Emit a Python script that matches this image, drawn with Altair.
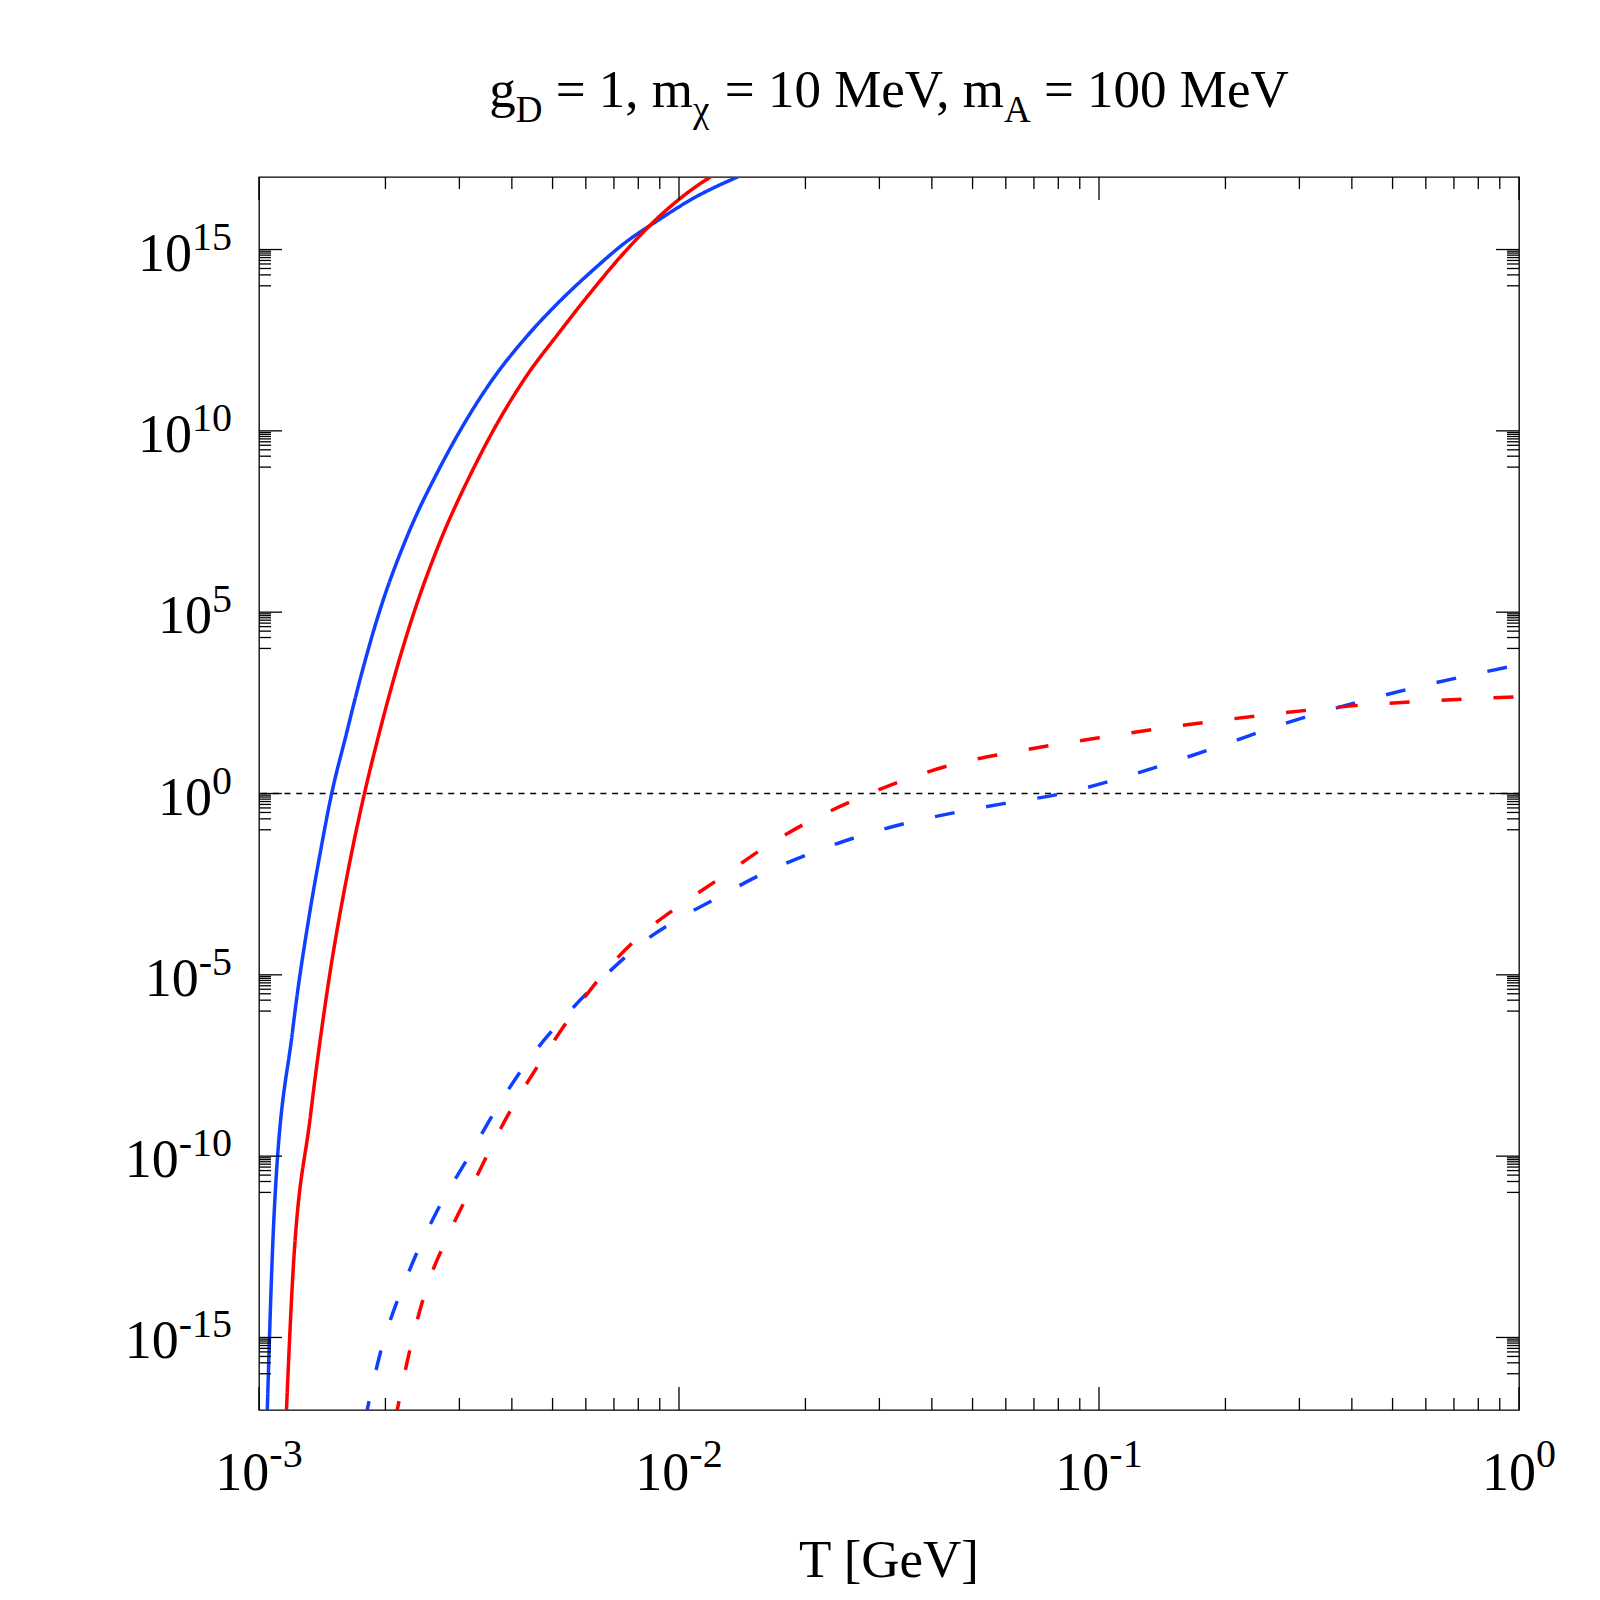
import altair as alt
import pandas as pd

# ---------------- data (log10 values) ----------------
blue_solid_logT = [-2.984, -2.964, -2.920, -2.878, -2.856, -2.827, -2.794, -2.757, -2.715, -2.647,
                   -2.571, -2.524, -2.445, -2.365, -2.286, -2.206, -2.127, -2.048, -1.968, -1.861, -1.80]
blue_solid_logY = [-18.5, -11.6, -6.54, -3.2, -1.75, 0.0, 1.55, 3.25, 4.95, 7.1,
                   8.95, 9.95, 11.4, 12.57, 13.55, 14.42, 15.2, 15.82, 16.4, 17.0, 17.3]

red_solid_logT = [-2.940, -2.920, -2.878, -2.837, -2.783, -2.749, -2.714, -2.672, -2.635, -2.574,
                  -2.492, -2.445, -2.365, -2.286, -2.206, -2.127, -2.048, -1.985, -1.921, -1.88]
red_solid_logY = [-18.5, -13.4, -8.93, -5.4, -1.84, 0.0, 1.65, 3.45, 4.85, 6.8,
                  8.9, 9.95, 11.48, 12.7, 13.88, 14.96, 15.9, 16.52, 17.03, 17.3]

blue_dashed_logT = [-2.748, -2.715, -2.647, -2.580, -2.500, -2.430, -2.355, -2.260, -2.160, -2.080,
                    -2.000, -1.914, -1.805, -1.690, -1.574, -1.456, -1.334, -1.213, -1.091,
                    -0.950, -0.822, -0.700, -0.579, -0.384, -0.200, 0.0]
blue_dashed_logY = [-17.3, -15.6, -13.3, -11.6, -10.0, -8.6, -7.3, -6.0, -4.85, -4.05,
                    -3.45, -2.91, -2.235, -1.665, -1.19, -0.81, -0.505, -0.25, -0.01,
                    0.42, 0.88, 1.36, 1.85, 2.52, 3.05, 3.55]

red_dashed_logT = [-2.676, -2.640, -2.600, -2.550, -2.500, -2.404, -2.330, -2.258, -2.160, -2.080,
                   -2.000, -1.902, -1.800, -1.693, -1.581, -1.467, -1.349, -1.200, -1.000,
                   -0.800, -0.579, -0.384, -0.200, 0.0]
red_dashed_logY = [-17.3, -15.3, -13.6, -12.2, -11.0, -8.8, -7.4, -6.15, -4.7, -3.8,
                   -3.1, -2.335, -1.515, -0.79, -0.175, 0.36, 0.795, 1.15, 1.54,
                   1.88, 2.2, 2.43, 2.56, 2.67]

series_names = ["blue_solid", "red_solid", "blue_dashed", "red_dashed"]
series_colors = ["#1040ff", "#ff0000", "#1040ff", "#ff0000"]

y_major_exp = [-15, -10, -5, 0, 5, 10, 15]
x_major_exp = [-3, -2, -1, 0]
ref_line_value = [1.0]

title_parts = ["g", "D", "= 1, m", "χ", "= 10 MeV, m", "A", "= 100 MeV"]
title_is_sub = [False, True, False, True, False, True, False]
x_title = "T [GeV]"

# ---------------- layout constants ----------------
W, H = 1260, 1233
FONT = "Liberation Serif"
BASE_FS, EXP_FS = 54, 40
TITLE_FS, TITLE_SUB_FS = 53, 37
MAJ, MIN = 23, 12
INK = "black"

CHAR_W = {' ': 250, '=': 564, '0': 500, '1': 500, '2': 500, '3': 500, '5': 500, ',': 250,
          'm': 778, 'g': 500, 'M': 889, 'e': 444, 'V': 722, 'D': 722, 'A': 722, 'χ': 500,
          '-': 333, 'T': 611, '[': 333, 'G': 722, ']': 333}
KERN = {"V,": -129}


def tw(s, size):
    total = sum(CHAR_W.get(c, 500) for c in s)
    for pair, k in KERN.items():
        total += s.count(pair) * k
    return total * size / 1000.0


xs = alt.Scale(type="log", domain=[1e-3, 1.0], nice=False)
ys = alt.Scale(type="log", domain=[1e-17, 1e17], nice=False)

# ---------------- curves ----------------
rows = []
for name, lt, ly, style in [
    ("blue_solid", blue_solid_logT, blue_solid_logY, "solid"),
    ("red_solid", red_solid_logT, red_solid_logY, "solid"),
    ("blue_dashed", blue_dashed_logT, blue_dashed_logY, "dashed"),
    ("red_dashed", red_dashed_logT, red_dashed_logY, "dashed"),
]:
    for i, (a, b) in enumerate(zip(lt, ly)):
        rows.append({"series": name, "style": style, "i": i, "T": 10.0 ** a, "v": 10.0 ** b})
curves_df = pd.DataFrame(rows)

curves = alt.Chart(curves_df).mark_line(
    clip=True, strokeWidth=3.5, strokeCap="butt", interpolate="monotone"
).encode(
    x=alt.X("T:Q", scale=xs, axis=None),
    y=alt.Y("v:Q", scale=ys, axis=None),
    color=alt.Color("series:N", scale=alt.Scale(domain=series_names, range=series_colors), legend=None),
    strokeDash=alt.StrokeDash("style:N", scale=alt.Scale(domain=["solid", "dashed"], range=[[1, 0], [20, 32]]), legend=None),
    detail="series:N",
    order="i:Q",
)

ref = alt.Chart(pd.DataFrame({"v": ref_line_value})).mark_rule(
    color=INK, strokeWidth=1.3, strokeDash=[6, 5.7]
).encode(y=alt.Y("v:Q", scale=ys, axis=None))

# ---------------- ticks ----------------
y_major = pd.DataFrame({"v": [10.0 ** k for k in y_major_exp]})
y_minor = pd.DataFrame({"v": [j * 10.0 ** (k - 1) for k in y_major_exp for j in range(1, 10)]})
x_major = pd.DataFrame({"T": [10.0 ** k for k in x_major_exp]})
x_minor = pd.DataFrame({"T": [j * 10.0 ** k for k in x_major_exp[:-1] for j in range(2, 10)]})

ticks = []
for df, ln in [(y_major, MAJ), (y_minor, MIN)]:
    yenc = alt.Y("v:Q", scale=ys, axis=None)
    ticks.append(alt.Chart(df).mark_rule(color=INK, strokeWidth=1.3).encode(
        y=yenc, x=alt.value(0), x2=alt.value(ln)))
    ticks.append(alt.Chart(df).mark_rule(color=INK, strokeWidth=1.3).encode(
        y=yenc, x=alt.value(W - ln), x2=alt.value(W)))
for df, ln in [(x_major, MAJ), (x_minor, MIN)]:
    xenc = alt.X("T:Q", scale=xs, axis=None)
    ticks.append(alt.Chart(df).mark_rule(color=INK, strokeWidth=1.3).encode(
        x=xenc, y=alt.value(H - ln), y2=alt.value(H)))
    ticks.append(alt.Chart(df).mark_rule(color=INK, strokeWidth=1.3).encode(
        x=xenc, y=alt.value(0), y2=alt.value(ln)))

# ---------------- tick labels ----------------
labels = []
for k in y_major_exp:
    e = str(k)
    d = pd.DataFrame({"v": [10.0 ** k], "b": ["10"], "e": [e]})
    we = tw(e, EXP_FS)
    labels.append(alt.Chart(d).mark_text(align="right", baseline="alphabetic", font=FONT,
                                         fontSize=BASE_FS, dx=-we, dy=21, color=INK).encode(
        x=alt.value(-27), y=alt.Y("v:Q", scale=ys, axis=None), text="b:N"))
    labels.append(alt.Chart(d).mark_text(align="right", baseline="alphabetic", font=FONT,
                                         fontSize=EXP_FS, color=INK).encode(
        x=alt.value(-27), y=alt.Y("v:Q", scale=ys, axis=None), text="e:N"))

for k in x_major_exp:
    e = str(k)
    d = pd.DataFrame({"T": [10.0 ** k], "b": ["10"], "e": [e]})
    wb = tw("10", BASE_FS)
    tot = wb + tw(e, EXP_FS)
    labels.append(alt.Chart(d).mark_text(align="left", baseline="alphabetic", font=FONT,
                                         fontSize=BASE_FS, dx=-tot / 2, color=INK).encode(
        x=alt.X("T:Q", scale=xs, axis=None), y=alt.value(H + 80), text="b:N"))
    labels.append(alt.Chart(d).mark_text(align="left", baseline="alphabetic", font=FONT,
                                         fontSize=EXP_FS, dx=-tot / 2 + wb, color=INK).encode(
        x=alt.X("T:Q", scale=xs, axis=None), y=alt.value(H + 57), text="e:N"))

labels.append(alt.Chart(pd.DataFrame({"t": [x_title]})).mark_text(
    align="center", baseline="alphabetic", font=FONT, fontSize=53, color=INK).encode(
    x=alt.value(W / 2), y=alt.value(H + 167), text="t:N"))

# ---------------- title with subscripts ----------------
space_w = tw(" ", TITLE_FS)
pos = []
cur = 0.0
for part, sub in zip(title_parts, title_is_sub):
    if part.startswith("="):
        cur += space_w
    pos.append(cur)
    cur += tw(part, TITLE_SUB_FS if sub else TITLE_FS)
start = W / 2 - cur / 2
for part, sub, p in zip(title_parts, title_is_sub, pos):
    labels.append(alt.Chart(pd.DataFrame({"t": [part]})).mark_text(
        align="left", baseline="alphabetic", font=FONT,
        fontSize=TITLE_SUB_FS if sub else TITLE_FS, color=INK).encode(
        x=alt.value(start + p), y=alt.value(-55.5 if sub else -69.7), text="t:N"))

chart = alt.layer(ref, curves, *ticks, *labels).properties(
    width=W, height=H,
    padding={"left": 251, "top": 169, "right": 70, "bottom": 190},
    autosize=alt.AutoSizeParams(type="none"),
    background="white",
).configure_view(stroke=INK, strokeWidth=1.3)

chart.save("out.html", embed_options={"renderer": "svg", "actions": False})
